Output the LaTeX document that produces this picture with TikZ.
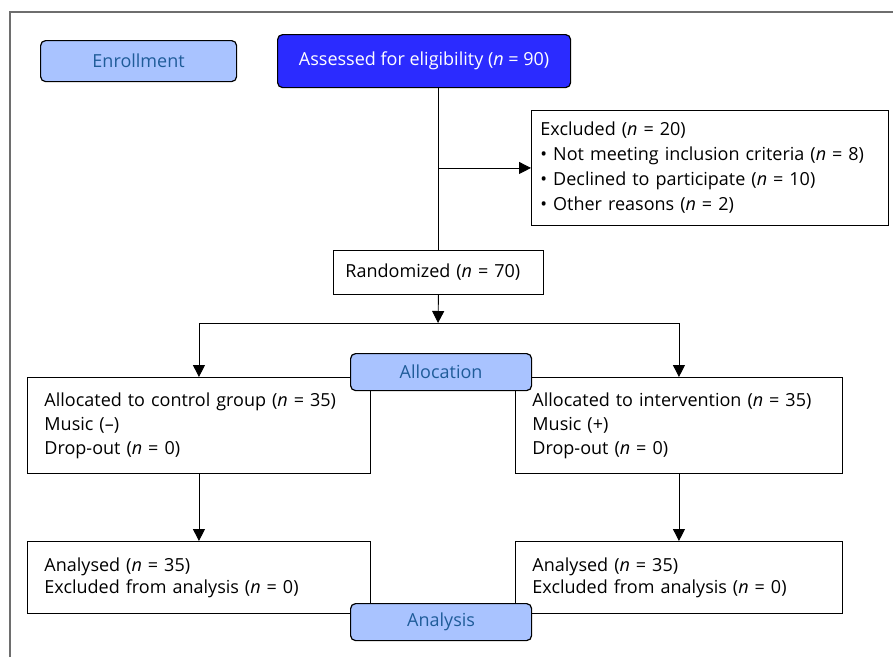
\documentclass[tikz,border=0pt]{standalone}
\usepackage{fontspec}
\setmainfont{Open Sans}
\usetikzlibrary{arrows.meta}
\definecolor{stagefill}{HTML}{A9C3FF}
\definecolor{stagetext}{HTML}{1F5C99}
\definecolor{startfill}{HTML}{2B2BFF}
\definecolor{framegray}{HTML}{6E6E6E}
\tikzset{
  stage/.style={draw, rounded corners=5pt, fill=stagefill, text=stagetext, line width=1.2pt, anchor=north west, inner sep=0pt},
  infobox/.style={draw, fill=white, align=left, anchor=north west, line width=0.9pt, inner ysep=0pt},
  flow/.style={-{Triangle[length=12pt,width=12pt]}, line width=0.9pt}
}
\newcommand{\nn}{\textit{n}}

\begin{document}
\begin{tikzpicture}[x=1pt, y=-1pt, font=\fontsize{18}{24}\selectfont]
\useasboundingbox (0,0) rectangle (893,657);
\draw[framegray, line width=1.2pt] (10,657) -- (10,12) -- (893,12);

% enrollment
\node[stage, minimum width=196, minimum height=41] (enrol) at (40,40) {Enrollment};
\node[stage, fill=startfill, text=white, minimum width=293, minimum height=53] (assess) at (277,34) {Assessed for eligibility (\nn{} = 90)};

\node[infobox, inner xsep=9pt, text width=339pt, minimum height=115, font=\fontsize{18}{25}\selectfont] (excl) at (531,110)
  {Excluded (\nn{} = 20)\\
   \textbullet\ Not meeting inclusion criteria (\nn{} = 8)\\
   \textbullet\ Declined to participate (\nn{} = 10)\\
   \textbullet\ Other reasons (\nn{} = 2)};

\node[infobox, inner xsep=12pt, text width=186pt, minimum height=44] (rand) at (333,250) {Randomized (\nn{} = 70)};

% allocation
\node[infobox, inner xsep=17pt, text width=309pt, minimum height=96] (ctrl) at (27,377)
  {Allocated to control group (\nn{} = 35)\\ Music (--)\\ Drop-out (\nn{} = 0)};
\node[infobox, inner xsep=17pt, text width=293pt, minimum height=96] (intv) at (515,377)
  {Allocated to intervention (\nn{} = 35)\\ Music (+)\\ Drop-out (\nn{} = 0)};

% analysis
\node[infobox, inner xsep=17pt, text width=309pt, minimum height=72, font=\fontsize{18}{22}\selectfont] (anac) at (27,541)
  {Analysed (\nn{} = 35)\\ Excluded from analysis (\nn{} = 0)};
\node[infobox, inner xsep=17pt, text width=293pt, minimum height=72, font=\fontsize{18}{22}\selectfont] (anai) at (515,541)
  {Analysed (\nn{} = 35)\\ Excluded from analysis (\nn{} = 0)};

\node[stage, minimum width=181, minimum height=37] (alloc) at (350,353) {Allocation};
\node[stage, minimum width=181, minimum height=37] (anal) at (350,603) {Analysis};

% connectors
\coordinate (split) at (438,323);
\draw[line width=0.9pt] (rand.north |- assess.south) -- (rand.north);
\draw[flow] (rand.north |- excl.west) -- (excl.west);
\draw[flow] (rand.south) -- (split);
\draw[line width=0.9pt] (split -| ctrl.north) -- (split -| intv.north);
\draw[flow] (split -| ctrl.north) -- (ctrl.north);
\draw[flow] (split -| intv.north) -- (intv.north);
\draw[flow] (ctrl.south) -- (anac.north);
\draw[flow] (intv.south) -- (anai.north);
\end{tikzpicture}
\end{document}
